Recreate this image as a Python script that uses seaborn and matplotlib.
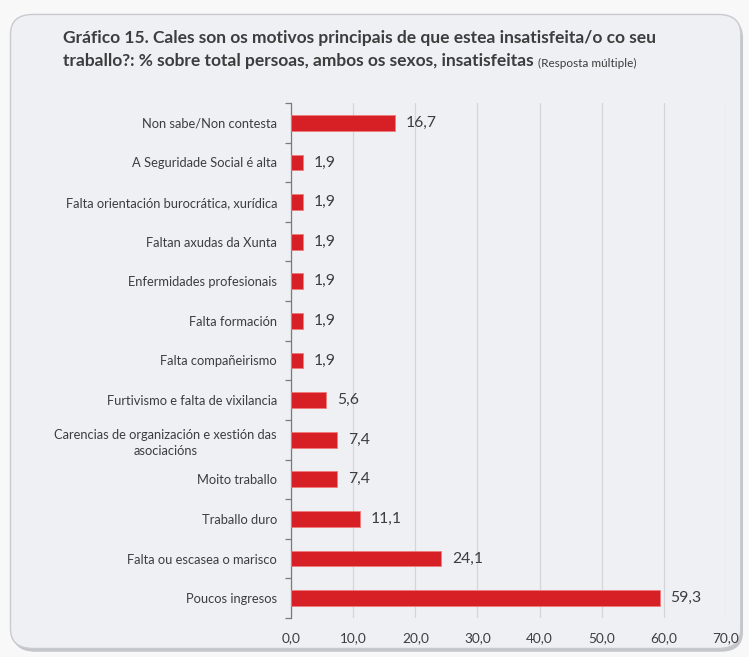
import numpy as np
import pandas as pd
import seaborn as sns
import matplotlib.pyplot as plt
from matplotlib.patches import FancyBboxPatch
from matplotlib.ticker import FixedLocator, FuncFormatter

categories = [
    "Non sabe/Non contesta",
    "A Seguridade Social é alta",
    "Falta orientación burocrática, xurídica",
    "Faltan axudas da Xunta",
    "Enfermidades profesionais",
    "Falta formación",
    "Falta compañeirismo",
    "Furtivismo e falta de vixilancia",
    "Carencias de organización e xestión das\nasociacións",
    "Moito traballo",
    "Traballo duro",
    "Falta ou escasea o marisco",
    "Poucos ingresos",
]
values = [16.7, 1.9, 1.9, 1.9, 1.9, 1.9, 1.9, 5.6, 7.4, 7.4, 11.1, 24.1, 59.3]
x_ticks = [0, 10, 20, 30, 40, 50, 60, 70]

TEXT = "#3d3d3d"
RED = "#d71f26"

sns.set_theme(style="white")
plt.rcParams["font.family"] = ["Lato", "DejaVu Sans"]

df = pd.DataFrame({"motivo": categories, "pct": values})

fig = plt.figure(figsize=(7.49, 6.57), dpi=100)
fig.patch.set_facecolor("#f8f8f9")

# rounded panel with a soft shadow (kept below the axes)
shadow = FancyBboxPatch((0.017, 0.008), 0.975, 0.965, boxstyle="round,pad=0,rounding_size=0.03",
                        transform=fig.transFigure, facecolor="#c4c6ca", edgecolor="none", zorder=-2)
panel = FancyBboxPatch((0.014, 0.013), 0.975, 0.965, boxstyle="round,pad=0,rounding_size=0.03",
                       transform=fig.transFigure, facecolor="#eef0f4", edgecolor="#c8cacf",
                       linewidth=1.0, zorder=-1)
fig.patches.extend([shadow, panel])

ax = fig.add_axes([0.3885, 0.0594, 0.5808, 0.7838])
ax.set_facecolor("none")

sns.barplot(data=df, y="motivo", x="pct", orient="h", color=RED, width=0.4,
            edgecolor="#f07a7a", linewidth=0.6, saturation=1, ax=ax, zorder=3)

ax.set_xlim(0, 70)
ax.set_ylim(len(categories) - 0.5, -0.5)
ax.xaxis.set_major_locator(FixedLocator(x_ticks))
ax.xaxis.set_major_formatter(FuncFormatter(lambda v, p: f"{v:.1f}".replace(".", ",")))
ax.grid(axis="x", color="#d4d5d8", linewidth=0.9, zorder=0)
ax.set_axisbelow(True)
ax.set_xlabel("")
ax.set_ylabel("")

for s in ["top", "right", "bottom"]:
    ax.spines[s].set_visible(False)
ax.spines["left"].set_color("#7a7a7a")
ax.spines["left"].set_linewidth(0.9)

ax.tick_params(axis="x", length=0, labelsize=9.8, labelcolor=TEXT, pad=10)
ax.tick_params(axis="y", which="major", left=False, length=0, labelsize=9.3,
               labelcolor=TEXT, pad=10)
ax.yaxis.set_minor_locator(FixedLocator(np.arange(-0.5, len(categories), 1.0)))
ax.tick_params(axis="y", which="minor", left=True, length=4, width=0.9, color="#7a7a7a",
               direction="out")
for lbl in ax.get_yticklabels():
    lbl.set_multialignment("center")
    lbl.set_linespacing(1.45)

for i, v in enumerate(values):
    ax.annotate(f"{v:.1f}".replace(".", ","), xy=(v, i), xytext=(8, 0), textcoords="offset points",
                va="center", ha="left", fontsize=11.3, color=TEXT)

fig.text(0.084, 0.934, "Gráfico 15. Cales son os motivos principais de que estea insatisfeita/o co seu",
         fontsize=12.5, fontweight="bold", color=TEXT, ha="left", va="baseline")
t2 = fig.text(0.084, 0.899, "traballo?: % sobre total persoas, ambos os sexos, insatisfeitas",
              fontsize=12.5, fontweight="bold", color=TEXT, ha="left", va="baseline")
fig.add_artist(plt.Annotation(" (Resposta múltiple)", xy=(1, 0), xycoords=t2, xytext=(1, 0),
                              textcoords="offset points", fontsize=8.5, color=TEXT,
                              ha="left", va="bottom", annotation_clip=False))

fig.savefig("out.png", dpi=100, facecolor=fig.get_facecolor())
